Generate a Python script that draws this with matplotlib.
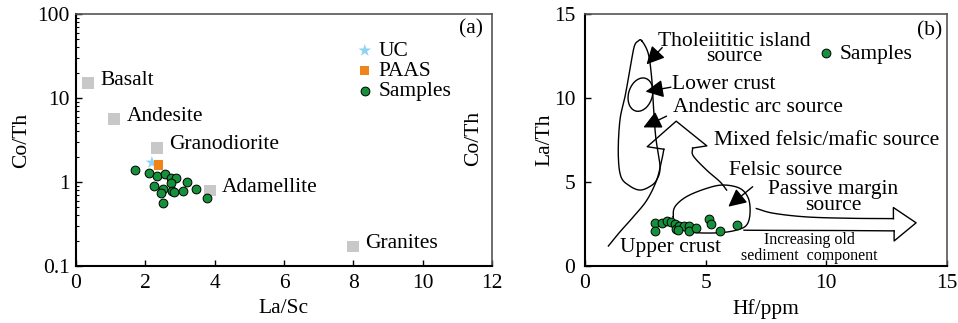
import numpy as np
import matplotlib
matplotlib.use("Agg")
import matplotlib.pyplot as plt
from matplotlib.patches import Ellipse

plt.rcParams['font.family'] = ['Liberation Serif', 'DejaVu Serif']
plt.rcParams['font.size'] = 15.5
FS = 15.5

# ---- (a) La/Sc vs Co/Th ----
ref_names = ['Basalt', 'Andesite', 'Granodiorite', 'Adamellite', 'Granites']
ref_lasc = [0.35, 1.10, 2.34, 3.86, 7.99]
ref_coth = [15.0, 5.6, 2.56, 0.79, 0.17]

uc_lasc, uc_coth = 2.19, 1.70
paas_lasc, paas_coth = 2.38, 1.59

samples_lasc = [1.70, 2.11, 2.34, 2.58, 2.74, 2.88, 3.19, 2.74, 2.25,
                2.50, 2.76, 2.82, 3.08, 3.47, 2.45, 3.78, 2.50]
samples_coth = [1.39, 1.27, 1.18, 1.24, 1.13, 1.13, 1.01, 0.96, 0.90,
                0.82, 0.79, 0.75, 0.79, 0.83, 0.73, 0.65, 0.56]

# ---- (b) Hf vs La/Th ----
samples_hf = [2.90, 2.92, 3.20, 3.40, 3.55, 3.73, 3.77, 3.91, 4.12,
              4.31, 4.30, 4.60, 5.15, 5.22, 5.59, 6.31, 3.87]
samples_lath = [2.58, 2.10, 2.58, 2.68, 2.60, 2.50, 2.18, 2.38, 2.38,
                2.38, 2.10, 2.28, 2.78, 2.50, 2.08, 2.44, 2.14]

# field outlines of the Hf - La/Th diagram
tholeiitic_field = [(2.35, 13.41), (2.62, 12.66), (2.76, 11.27), (2.83, 9.68),
                    (2.93, 7.70), (3.11, 5.91), (2.97, 5.12), (2.69, 4.73),
                    (2.28, 4.52), (1.86, 4.76), (1.49, 5.32), (1.38, 6.71),
                    (1.45, 8.69), (1.66, 10.08), (1.86, 11.66), (2.04, 13.05),
                    (2.21, 13.39)]
lower_crust_center = (2.30, 10.20)
lower_crust_size = (1.0, 2.0)
felsic_field = [(3.66, 2.93), (3.73, 3.53), (4.21, 4.13), (5.04, 4.62),
                (5.73, 4.82), (6.42, 4.62), (6.77, 4.03), (6.84, 3.14),
                (6.70, 2.44), (6.29, 2.14), (5.59, 1.98), (4.63, 1.98),
                (4.07, 2.14), (3.73, 2.54)]
mixed_arrow_left = [(0.97, 1.19), (1.45, 2.03), (2.00, 2.92), (2.56, 3.91),
                    (2.97, 5.11), (3.18, 6.30), (3.27, 6.95)]
mixed_arrow_head = [(3.27, 6.95), (2.58, 7.10), (3.78, 8.62), (5.05, 7.15),
                    (4.46, 7.02)]
mixed_arrow_right = [(4.46, 7.02), (4.49, 6.55), (5.04, 5.71), (5.59, 5.02),
                     (5.87, 4.52)]
passive_upper = [(7.10, 3.42), (7.81, 3.14), (9.19, 2.92), (11.0, 2.84),
                 (12.78, 2.82)]
passive_head = [(12.78, 2.82), (12.78, 3.48), (13.72, 2.57), (12.81, 1.49),
                (12.81, 2.09)]
passive_lower = [(12.81, 2.09), (10.58, 2.11), (7.81, 2.12), (6.59, 2.13)]

pointers = [((3.20, 13.00), (2.55, 12.00)),
            ((3.56, 10.64), (2.51, 10.38)),
            ((3.38, 8.92), (2.42, 8.25)),
            ((6.95, 4.72), (5.94, 3.53))]


def smooth(points, closed=False, n=20):
    # Catmull-Rom curve through the given vertices
    p = np.asarray(points, dtype=float)
    if closed:
        p = np.vstack([p[-1], p, p[0], p[1]])
    else:
        p = np.vstack([2 * p[0] - p[1], p, 2 * p[-1] - p[-2]])
    out = []
    t = np.linspace(0, 1, n, endpoint=False)[:, None]
    for i in range(1, len(p) - 2):
        p0, p1, p2, p3 = p[i - 1], p[i], p[i + 1], p[i + 2]
        seg = 0.5 * ((2 * p1) + (-p0 + p2) * t +
                     (2 * p0 - 5 * p1 + 4 * p2 - p3) * t ** 2 +
                     (-p0 + 3 * p1 - 3 * p2 + p3) * t ** 3)
        out.append(seg)
    out.append(p[-2][None, :])
    return np.vstack(out)


def style_axes(ax, ypad):
    ax.tick_params(direction='in', top=False, right=False, length=4,
                   width=1, labelsize=FS)
    ax.tick_params(axis='x', pad=6)
    ax.tick_params(axis='y', pad=ypad)
    ax.tick_params(which='minor', direction='in', length=2.5, width=0.8)
    for side in ['left', 'bottom']:
        ax.spines[side].set_linewidth(1.5)
        ax.spines[side].set_color('black')
    for side in ['top', 'right']:
        ax.spines[side].set_linewidth(1.2)
        ax.spines[side].set_color('#555555')


fig = plt.figure(figsize=(9.58, 3.23), dpi=100)
ax1 = fig.add_axes([0.0793, 0.1765, 0.4342, 0.7802])
ax2 = fig.add_axes([0.6106, 0.1765, 0.3779, 0.7802])

# panel (a)
ax1.set_yscale('log')
ax1.scatter(ref_lasc, ref_coth, marker='s', s=70, color='#c8c8c8',
            edgecolors='none', zorder=3)
for name, x, y in zip(ref_names, ref_lasc, ref_coth):
    ax1.annotate(name, (x, y), xytext=(9, 2), textcoords='offset points',
                 ha='left', va='center', fontsize=FS)
ax1.scatter([uc_lasc], [uc_coth], marker='*', s=90, color='#8fd3f0',
            edgecolors='none', zorder=4, label='UC')
ax1.scatter([paas_lasc], [paas_coth], marker='s', s=45, color='#f08418',
            edgecolors='none', zorder=4, label='PAAS')
ax1.scatter(samples_lasc, samples_coth, s=40, color='#15913c',
            edgecolors='black', linewidths=0.7, zorder=5, label='Samples')
ax1.set_xlim(0, 12)
ax1.set_ylim(0.1, 100)
ax1.set_xticks(np.arange(0, 13, 2))
ax1.set_yticks([0.1, 1, 10, 100])
ax1.set_yticklabels(['0.1', '1', '10', '100'])
ax1.set_xlabel('La/Sc', fontsize=FS)
ax1.set_ylabel('Co/Th', fontsize=FS)
ax1.xaxis.set_label_coords(0.5, -0.132)
ax1.yaxis.set_label_coords(-0.108, 0.5)
ax1.text(0.957, 0.508, 'Co/Th', transform=ax1.transAxes, rotation=90,
         ha='center', va='center', fontsize=FS)
ax1.text(0.95, 0.94, '(a)', transform=ax1.transAxes, ha='center',
         va='center', fontsize=FS)
ax1.legend(loc='upper left', bbox_to_anchor=(0.64, 0.935), frameon=False,
           handletextpad=0.1, labelspacing=0.0, borderpad=0,
           handlelength=1.1, fontsize=FS)
style_axes(ax1, 4.5)

# panel (b)
lw = 1.0
xy = smooth(tholeiitic_field, closed=True)
ax2.plot(xy[:, 0], xy[:, 1], color='black', lw=lw)
ax2.add_patch(Ellipse(lower_crust_center, *lower_crust_size, angle=-8,
                      fill=False, ec='black', lw=lw))
xy = smooth(felsic_field, closed=True)
ax2.plot(xy[:, 0], xy[:, 1], color='black', lw=lw)
for part in [mixed_arrow_left, mixed_arrow_right, passive_upper, passive_lower]:
    xy = smooth(part)
    ax2.plot(xy[:, 0], xy[:, 1], color='black', lw=lw)
for part in [mixed_arrow_head, passive_head]:
    xy = np.asarray(part)
    ax2.plot(xy[:, 0], xy[:, 1], color='black', lw=lw)
for start, tip in pointers:
    ax2.annotate('', xy=tip, xytext=start,
                 arrowprops=dict(arrowstyle='-|>,head_length=0.7,head_width=0.35',
                                 color='black', lw=1.0, shrinkA=0, shrinkB=0))

ax2.scatter(samples_hf, samples_lath, s=40, color='#15913c',
            edgecolors='black', linewidths=0.7, zorder=5, label='Samples')

ax2.text(6.17, 12.93, 'Tholeiititic island\nsource', ha='center',
         va='center', linespacing=0.75, fontsize=FS)
ax2.text(3.59, 10.83, 'Lower crust', ha='left', va='center', fontsize=FS)
ax2.text(3.64, 9.42, 'Andestic arc source', ha='left', va='center', fontsize=FS)
ax2.text(5.35, 7.49, 'Mixed felsic/mafic source', ha='left', va='center',
         fontsize=FS)
ax2.text(5.95, 5.66, 'Felsic source', ha='left', va='center', fontsize=FS)
ax2.text(10.3, 4.08, 'Passive margin\nsource', ha='center', va='center',
         linespacing=0.75, fontsize=FS)
ax2.text(9.3, 1.07, 'Increasing old\nsediment  component', ha='center',
         va='center', linespacing=1.0, fontsize=11.5)
ax2.text(1.45, 1.09, 'Upper crust', ha='left', va='center', fontsize=FS)
ax2.text(14.3, 14.0, '(b)', ha='center', va='center', fontsize=FS)

ax2.set_xlim(0, 15)
ax2.set_ylim(0, 15)
ax2.set_xticks([0, 5, 10, 15])
ax2.set_yticks([0, 5, 10, 15])
ax2.set_xlabel('Hf/ppm', fontsize=FS)
ax2.set_ylabel('La/Th', fontsize=FS)
ax2.xaxis.set_label_coords(0.5, -0.132)
ax2.yaxis.set_label_coords(-0.083, 0.5)
ax2.legend(loc='upper left', bbox_to_anchor=(0.607, 0.925), frameon=False,
           handletextpad=0.1, borderpad=0, handlelength=1.0, fontsize=FS)
style_axes(ax2, 7)

fig.savefig('out.png', dpi=100)
